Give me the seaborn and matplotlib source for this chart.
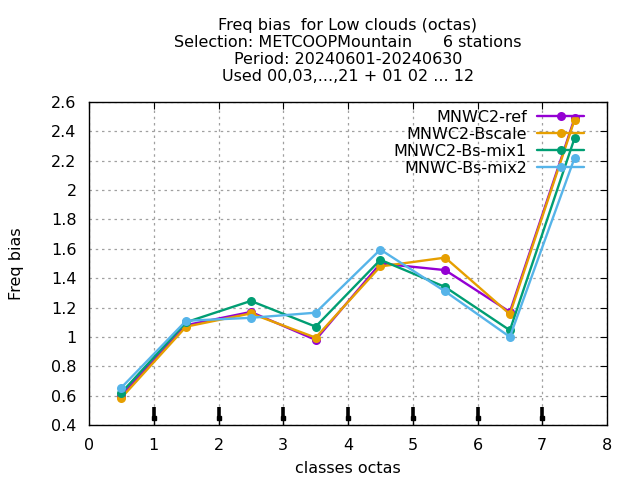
import matplotlib
matplotlib.use("Agg")
import matplotlib.pyplot as plt
import seaborn as sns
import pandas as pd
from matplotlib.ticker import FormatStrFormatter

# classes (bin centres) and freq bias per experiment
classes = [0.5, 1.5, 2.5, 3.5, 4.5, 5.5, 6.5, 7.5]
ref = [0.60, 1.08, 1.17, 0.98, 1.50, 1.455, 1.17, 2.49]
bscale = [0.585, 1.07, 1.16, 0.995, 1.48, 1.54, 1.155, 2.48]
mix1 = [0.62, 1.10, 1.245, 1.07, 1.525, 1.34, 1.045, 2.355]
mix2 = [0.655, 1.11, 1.13, 1.165, 1.595, 1.31, 1.0, 2.22]
names = ["MNWC2-ref", "MNWC2-Bscale", "MNWC2-Bs-mix1", "MNWC-Bs-mix2"]
colors = ["#9400d3", "#e69f00", "#009e73", "#56b4e9"]
arrow_x = [1, 2, 3, 4, 5, 6, 7]

df = pd.DataFrame({
    "x": classes * 4,
    "bias": ref + bscale + mix1 + mix2,
    "exp": sum([[n] * len(classes) for n in names], []),
})

sns.set_style("white")
plt.rcParams["font.family"] = ["DejaVu Sans"]
plt.rcParams.update({"text.color": "black", "axes.labelcolor": "black",
                     "xtick.color": "black", "ytick.color": "black"})

fig = plt.figure(figsize=(6.4, 4.8), dpi=100)
ax = fig.add_axes([89 / 640, 1 - 425 / 480, (607 - 89) / 640, (425 - 102) / 480])

sns.lineplot(data=df, x="x", y="bias", hue="exp", hue_order=names,
             palette=colors, marker="o", markersize=6.5, markeredgewidth=0,
             linewidth=1.7, ax=ax)

# small down arrows at the class boundaries
ax.vlines(arrow_x, 0.44, 0.524, color="black", linewidth=2.6)
ax.vlines(arrow_x, 0.4, 0.44, color="black", linewidth=1)
ax.plot(arrow_x, [0.447] * len(arrow_x), linestyle="none", marker="s",
        markersize=3.5, color="black")

ax.set_xlim(0, 8)
ax.set_ylim(0.4, 2.6)
ax.set_xticks(range(0, 9))
ax.set_yticks([0.4 + 0.2 * i for i in range(12)])
ax.yaxis.set_major_formatter(FormatStrFormatter("%g"))
ax.tick_params(direction="in", top=True, right=True, length=5, labelsize=11.5,
               color="black", pad=9)
for s in ax.spines.values():
    s.set_color("black")
    s.set_linewidth(1)
ax.grid(True, color="#a0a0a0", linestyle=(0, (2, 3)), linewidth=0.9)

ax.set_xlabel("classes octas", fontsize=11.5, labelpad=6)
ax.set_ylabel("Freq bias", fontsize=11.5, labelpad=19)
ax.set_title("Freq bias  for Low clouds (octas)\n"
             "Selection: METCOOPMountain      6 stations\n"
             "Period: 20240601-20240630\n"
             "Used 00,03,...,21 + 01 02 ... 12",
             fontsize=11.5, linespacing=1.16, pad=15)

h, l = ax.get_legend_handles_labels()
ax.legend(h, l, loc="upper right", bbox_to_anchor=(0.975, 1.005),
          markerfirst=False, frameon=False, fontsize=11.5, handlelength=3.0,
          borderaxespad=0.2, labelspacing=0.12, handletextpad=0.6)

fig.savefig("out.png", dpi=100)
